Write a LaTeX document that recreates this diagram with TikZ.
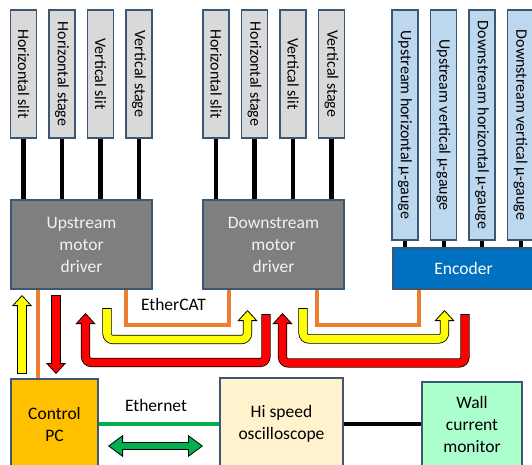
\documentclass[tikz,border=0pt]{standalone}
\usepackage{fontspec}
\setmainfont{Carlito}
\usepackage{graphicx}
\usetikzlibrary{arrows.meta,positioning}

\definecolor{edge}{HTML}{3A5874}
\definecolor{stagegray}{HTML}{D9D9D9}
\definecolor{gaugeblue}{HTML}{BDD7EE}
\definecolor{drivergray}{HTML}{7F7F7F}
\definecolor{drivertext}{HTML}{F2F2F2}
\definecolor{encoderblue}{HTML}{0070C0}
\definecolor{pcorange}{HTML}{FFC000}
\definecolor{scopecream}{HTML}{FFF2CC}
\definecolor{wcmgreen}{HTML}{AAFFCC}
\definecolor{ecatorange}{HTML}{ED7D31}
\definecolor{ethgreen}{HTML}{00B050}
\definecolor{arrowyellow}{HTML}{FFFF00}
\definecolor{arrowred}{HTML}{FF0000}

\tikzset{
  stagebox/.style={draw=edge, fill=stagegray, line width=1.1pt, inner sep=0pt,
    minimum width=26pt, minimum height=128pt, font=\fontsize{16}{19}\selectfont},
  gaugebox/.style={stagebox, fill=gaugeblue, minimum height=230pt},
  unitbox/.style={draw=edge, line width=1.1pt, align=center, inner sep=0pt,
    font=\fontsize{17.5}{22}\selectfont},
  driver/.style={unitbox, fill=drivergray, text=drivertext,
    minimum width=141pt, minimum height=89pt},
  linelabel/.style={text=black, inner sep=0pt, font=\fontsize{17.5}{22}\selectfont},
  link/.style={black, line width=4.3pt},
  ethercat/.style={ecatorange, line width=4pt},
  ethernet/.style={ethgreen, line width=3.3pt},
  fat outline/.style={black, line width=9.2pt, shorten <=-0.8pt,
    -{Triangle[width=20pt, length=11pt, fill=#1, line width=0.8pt]}},
  fat fill/.style={#1, line width=7.6pt, shorten >=10pt},
}

\begin{document}
\begin{tikzpicture}[x=1pt, y=-1pt]
  \useasboundingbox (0,0) rectangle (532,465);
  \clip (0,0) rectangle (532,465);

  % drivers and encoder
  \node[driver] (drvU) at (81.5,244.5) {Upstream\\motor\\driver};
  \node[driver] (drvD) at (273.5,244.5) {Downstream\\motor\\driver};
  \node[unitbox, fill=encoderblue, text=white, minimum width=141pt, minimum height=41pt] (enc) at (463.5,268.5) {Encoder};

  % upstream stages
  \node[stagebox] (uhs) at (23.5,74) {\rotatebox{-90}{Horizontal slit}};
  \node[stagebox] (uhst) at (62,74) {\rotatebox{-90}{Horizontal stage}};
  \node[stagebox] (uvs) at (100.5,74) {\rotatebox{-90}{Vertical slit}};
  \node[stagebox] (uvst) at (139,74) {\rotatebox{-90}{Vertical stage}};
  \draw[link] (uhs.south) -- (uhs.south |- drvU.north);
  \draw[link] (uhst.south) -- (uhst.south |- drvU.north);
  \draw[link] (uvs.south) -- (uvs.south |- drvU.north);
  \draw[link] (uvst.south) -- (uvst.south |- drvU.north);

  % downstream stages
  \node[stagebox] (dhs) at (216,74) {\rotatebox{-90}{Horizontal slit}};
  \node[stagebox] (dhst) at (254.5,74) {\rotatebox{-90}{Horizontal stage}};
  \node[stagebox] (dvs) at (293,74) {\rotatebox{-90}{Vertical slit}};
  \node[stagebox] (dvst) at (331.5,74) {\rotatebox{-90}{Vertical stage}};
  \draw[link] (dhs.south) -- (dhs.south |- drvD.north);
  \draw[link] (dhst.south) -- (dhst.south |- drvD.north);
  \draw[link] (dvs.south) -- (dvs.south |- drvD.north);
  \draw[link] (dvst.south) -- (dvst.south |- drvD.north);

  % gauges
  \node[gaugebox] (guh) at (405,125) {\rotatebox{-90}{Upstream horizontal µ-gauge}};
  \node[gaugebox] (guv) at (443.5,125) {\rotatebox{-90}{Upstream vertical µ-gauge}};
  \node[gaugebox] (gdh) at (482,125) {\rotatebox{-90}{Downstream horizontal µ-gauge}};
  \node[gaugebox] (gdv) at (520.5,125) {\rotatebox{-90}{Downstream vertical µ-gauge}};
  \draw[link, line width=4pt] (guh.south) -- (guh.south |- enc.north);
  \draw[link, line width=4pt] (guv.south) -- (guv.south |- enc.north);
  \draw[link, line width=4pt] (gdh.south) -- (gdh.south |- enc.north);
  \draw[link, line width=4pt] (gdv.south) -- (gdv.south |- enc.north);

  % bottom row
  \node[unitbox, fill=pcorange, minimum width=87pt, minimum height=90pt] (pc) at (54.5,424) {Control\\PC};
  \node[unitbox, fill=scopecream, minimum width=123pt, minimum height=92pt] (scope) at (281.5,424) {Hi speed\\oscilloscope};
  \node[unitbox, fill=wcmgreen, minimum width=100pt, minimum height=85pt] (wcm) at (472,424.5) {Wall\\current\\monitor};

  \draw[ethernet] (pc.east) -- node[linelabel, above=11pt, xshift=-3pt] (ethlbl) {Ethernet} (scope.west);
  \draw[link, line width=4.7pt] (scope.east) -- (scope.east -| wcm.west);

  % EtherCAT chain
  \draw[ethercat] ([xshift=28pt]drvU.south west) -- ([xshift=28pt]pc.north west);
  \draw[ethercat] ([xshift=-27pt]drvU.south east) -- ++(0,35)
    -| node[linelabel, pos=0.25, above=12pt, xshift=-4pt] (ecatlbl) {EtherCAT} ([xshift=27pt]drvD.south west);
  \draw[ethercat] ([xshift=-28pt]drvD.south east) -- ++(0,35) -| ([xshift=27pt]enc.south west);

  % data flow arrows
  \draw[fat outline=arrowyellow] (22,373) -- (22,295);
  \draw[fat fill=arrowyellow] (22,373) -- (22,295);
  \draw[fat outline=arrowred] (56,296) -- (56,374);
  \draw[fat fill=arrowred] (56,296) -- (56,374);

  \draw[fat outline=arrowred, rounded corners=6pt] (266,315) -- (266,362.5) -- (85.5,362.5) -- (85.5,313);
  \draw[fat fill=arrowred, rounded corners=6pt] (266,315) -- (266,362.5) -- (85.5,362.5) -- (85.5,313);
  \draw[fat outline=arrowyellow, rounded corners=6pt] (107,309) -- (107,339.5) -- (247.5,339.5) -- (247.5,310);
  \draw[fat fill=arrowyellow, rounded corners=6pt] (107,309) -- (107,339.5) -- (247.5,339.5) -- (247.5,310);

  \draw[fat outline=arrowred, rounded corners=6pt] (465,315) -- (465,363) -- (282.5,363) -- (282.5,313);
  \draw[fat fill=arrowred, rounded corners=6pt] (465,315) -- (465,363) -- (282.5,363) -- (282.5,313);
  \draw[fat outline=arrowyellow, rounded corners=6pt] (303,309) -- (303,339) -- (444.5,339) -- (444.5,310);
  \draw[fat fill=arrowyellow, rounded corners=6pt] (303,309) -- (303,339) -- (444.5,339) -- (444.5,310);

  \draw[black, line width=7.4pt,
    {Triangle[width=22pt, length=15pt, fill=ethgreen, line width=0.8pt]}-{Triangle[width=22pt, length=15pt, fill=ethgreen, line width=0.8pt]}]
    (108,446) -- (203,446);
  \draw[ethgreen, line width=5.8pt, shorten <=14pt, shorten >=14pt] (108,446) -- (203,446);
\end{tikzpicture}
\end{document}
